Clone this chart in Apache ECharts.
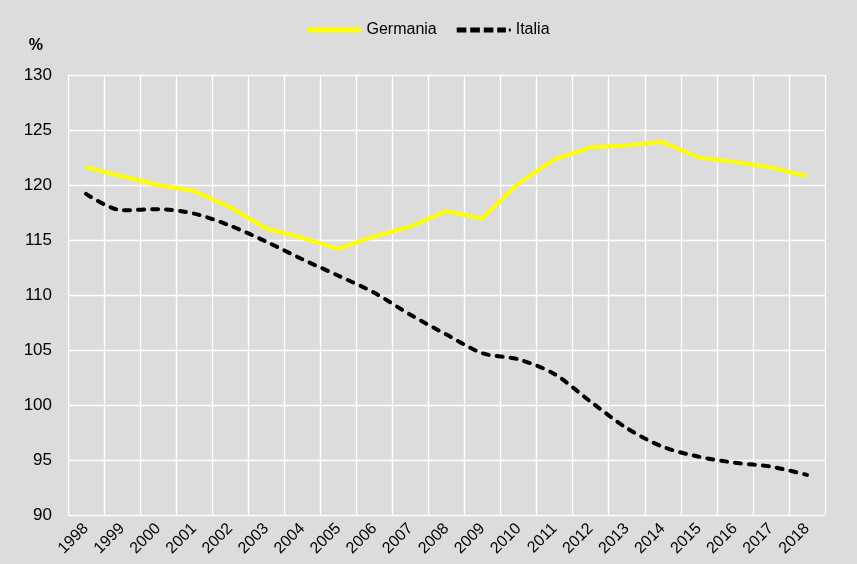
<!DOCTYPE html>
<html><head><meta charset="utf-8">
<script src="https://cdn.jsdelivr.net/npm/echarts@6/dist/echarts.min.js"></script>
<style>html,body{margin:0;padding:0;background:#dcdcdc}#c{width:857px;height:564px}</style>
</head><body><div id="c"></div>
<script>
const years = ['1998','1999','2000','2001','2002','2003','2004','2005','2006','2007','2008','2009','2010','2011','2012','2013','2014','2015','2016','2017','2018'];
const germania = [121.6,120.8,120.0,119.45,118.0,116.05,115.2,114.2,115.3,116.2,117.6,116.95,120.1,122.3,123.4,123.6,123.9,122.5,122.1,121.6,120.8];
const italia = [119.2,117.7,117.8,117.4,116.3,114.85,113.25,111.75,110.2,108.2,106.4,104.7,104.15,102.8,100.3,97.9,96.2,95.3,94.75,94.4,93.65];
const yTicks = {min: 90, max: 130, interval: 5};
const FONT = "'Liberation Sans', Arial, sans-serif";
const chart = echarts.init(document.getElementById('c'));
chart.setOption({
  backgroundColor: '#dcdcdc',
  animation: false,
  textStyle: {fontFamily: FONT, color: '#000'},
  legend: {
    top: 17, left: 'center', itemWidth: 54, itemHeight: 5, itemGap: 20,
    textStyle: {fontFamily: FONT, fontSize: 16, color: '#000'},
    data: [
      {name: 'Germania', icon: 'rect', itemStyle: {color: '#ffff00'}},
      {name: 'Italia', icon: 'path://M0,0h10v5h-10z M14,0h10v5h-10z M28,0h10v5h-10z M42,0h9v5h-9z M54,1h2v3h-2z', itemStyle: {color: '#000'}}
    ]
  },
  grid: {left: 68, right: 32, top: 75, bottom: 49},
  xAxis: {
    type: 'category', data: years, boundaryGap: true,
    axisLine: {show: false}, axisTick: {show: false},
    splitLine: {show: true, lineStyle: {color: '#ffffff', width: 1.3}},
    axisLabel: {interval: 0, rotate: 45, fontFamily: FONT, fontSize: 16, color: '#000', margin: 11}
  },
  yAxis: {
    type: 'value', min: yTicks.min, max: yTicks.max, interval: yTicks.interval,
    name: '%', nameLocation: 'end', nameGap: 21,
    nameTextStyle: {fontFamily: FONT, fontSize: 16, color: '#000', fontWeight: 'bold', align: 'right', padding: [0, 25, 0, 0]},
    axisLine: {show: false}, axisTick: {show: false},
    splitLine: {show: true, lineStyle: {color: '#ffffff', width: 1.3}},
    axisLabel: {fontFamily: FONT, fontSize: 17, color: '#000', margin: 16}
  },
  series: [
    {name: 'Germania', type: 'line', data: germania, symbol: 'none', smooth: false,
     itemStyle: {color: '#ffff00'}, lineStyle: {color: '#ffff00', width: 4}},
    {name: 'Italia', type: 'line', data: italia, symbol: 'none', smooth: 0.3,
     itemStyle: {color: '#000'}, lineStyle: {color: '#000', width: 4, type: [6, 8], cap: 'round'}}
  ]
});
</script></body></html>
